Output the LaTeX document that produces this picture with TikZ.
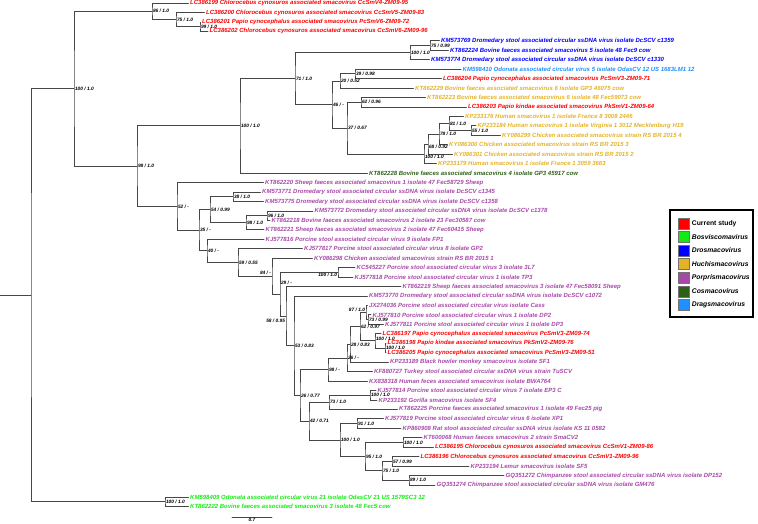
\documentclass[tikz,border=0pt]{standalone}
\usepackage{fontspec}
\setmainfont{Liberation Sans}
\usetikzlibrary{calc}
\usetikzlibrary{positioning}

\definecolor{cstudy}{RGB}{255,0,0}
\definecolor{bosv}{RGB}{20,235,20}
\definecolor{drosm}{RGB}{0,0,255}
\definecolor{huchi}{RGB}{228,178,40}
\definecolor{porp}{RGB}{168,72,168}
\definecolor{cosm}{RGB}{45,95,25}
\definecolor{dragsm}{RGB}{30,144,255}
\definecolor{treegray}{RGB}{70,70,70}

\newcommand{\leaffont}{\fontsize{6}{7}\selectfont\bfseries\itshape}
\newcommand{\suppfont}{\fontsize{4.8}{5.5}\selectfont\bfseries\itshape}
\newcommand{\legfont}{\fontsize{6.8}{8}\selectfont\bfseries}

%% clade: [label opts]{name}{x}{upper child}{lower child}{support}
\newcommand{\clade}[6][]{%
	\path let \p1=(#4), \p2=(#5) in (#3pt,{(\y1+\y2)/2}) coordinate (#2);
	\draw[branch] (#4) -| (#2) |- (#5);
	\node[supp,#1] (#2s) at (#2) {#6};}

\begin{document}
\begin{tikzpicture}[x=1pt,y=-1pt,line cap=round] %% tree
	\tikzstyle{branch}=[draw=treegray,line width=0.8pt];
	\tikzstyle{leaf}=[anchor=west,inner xsep=1.5pt,inner ysep=0pt,font=\leaffont];
	\tikzstyle{supp}=[anchor=west,inner sep=0.8pt,font=\suppfont];
	\tikzstyle{swatch}=[draw=black!55,minimum size=11pt,inner sep=0pt];
	\tikzstyle{legtext}=[anchor=west,inner sep=0pt,font=\legfont];
	\useasboundingbox (0,0) rectangle (758,523);
	%% leaves
	\foreach \tip/\col/\txt [count=\i] in {
		188.5/cstudy/LC386199 Chlorocebus cynosuros associated smacovirus CcSmV4-ZM09-95,
		204.5/cstudy/LC386200 Chlorocebus cynosuros associated smacovirus CcSmV5-ZM09-83,
		200.5/cstudy/LC386201 Papio cynocephalus associated smacovirus PcSmV6-ZM09-72,
		208/cstudy/LC386202 Chlorocebus cynosuros associated smacovirus CcSmV6-ZM09-96,
		439.5/drosm/KM573769 Dromedary stool associated circular ssDNA virus isolate DcSCV c1359,
		448.5/drosm/KT862224 Bovine faeces associated smacovirus 5 isolate 48 Fec9 cow,
		429.5/drosm/KM573774 Dromedary stool associated circular ssDNA virus isolate DcSCV c1330,
		461/dragsm/KM598410 Odonata associated circular virus 5 isolate OdasCV 12 US 1683LM1 12,
		441.5/cstudy/LC386204 Papio cynocephalus associated smacovirus PcSmV3-ZM09-71,
		413.5/huchi/KT862229 Bovine faeces associated smacovirus 6 isolate GP3 46075 cow,
		425.5/huchi/KT862223 Bovine faeces associated smacovirus 6 isolate 48 Fec59073 cow,
		466.5/cstudy/LC386203 Papio kindae associated smacovirus PkSmV1-ZM09-64,
		463.5/huchi/KP233176 Human smacovirus 1 isolate France 8 3008 2446,
		476/huchi/KP233184 Human smacovirus 1 isolate Virginia 1 3012 Mecklenburg H19,
		500.5/huchi/KY086299 Chicken associated smacovirus strain RS BR 2015 4,
		447.5/huchi/KY086300 Chicken associated smacovirus strain RS BR 2015 3,
		452.5/huchi/KY086301 Chicken associated smacovirus strain RS BR 2015 2,
		436.5/huchi/KP233179 Human smacovirus 1 isolate France 1 3059 3663,
		367.5/cosm/KT862228 Bovine faeces associated smacovirus 4 isolate GP3 45917 cow,
		263.5/porp/KT862220 Sheep faeces associated smacovirus 1 isolate 47 Fec58729 Sheep,
		260.5/porp/KM573771 Dromedary stool associated circular ssDNA virus isolate DcSCV c1345,
		263.5/porp/KM573775 Dromedary stool associated circular ssDNA virus isolate DcSCV c1358,
		313/porp/KM573772 Dromedary stool associated circular ssDNA virus isolate DcSCV c1378,
		270/porp/KT862218 Bovine faeces associated smacovirus 2 isolate 23 Fec30587 cow,
		264/porp/KT862221 Sheep faeces associated smacovirus 2 isolate 47 Fec60415 Sheep,
		264/porp/KJ577816 Porcine stool associated circular virus 9 isolate FP1,
		302.5/porp/KJ577817 Porcine stool associated circular virus 8 isolate GP2,
		312.5/porp/KY086298 Chicken associated smacovirus strain RS BR 2015 1,
		355/porp/KC545227 Porcine stool associated circular virus 3 isolate 3L7,
		353/porp/KJ577818 Porcine stool associated circular virus 1 isolate TP3,
		401/porp/KT862219 Sheep faeces associated smacovirus 3 isolate 47 Fec58091 Sheep,
		367.5/porp/KM573770 Dromedary stool associated circular ssDNA virus isolate DcSCV c1072,
		367.5/porp/JX274036 Porcine stool associated circular virus isolate Cass,
		371/porp/KJ577810 Porcine stool associated circular virus 1 isolate DP2,
		383.5/porp/KJ577811 Porcine stool associated circular virus 1 isolate DP3,
		381/cstudy/LC386197 Papio cynocephalus associated smacovirus PcSmV3-ZM09-74,
		386/cstudy/LC386198 Papio kindae associated smacovirus PkSmV2-ZM09-76,
		386/cstudy/LC386205 Papio cynocephalus associated smacovirus PcSmV3-ZM09-51,
		388.5/porp/KP233189 Black howler monkey smacovirus isolate SF1,
		372.5/porp/KF880727 Turkey stool associated circular ssDNA virus strain TuSCV,
		367.5/porp/KX838318 Human feces associated smacovirus isolate BWA764,
		376/porp/KJ577814 Porcine stool associated circular virus 7 isolate EP3 C,
		377/porp/KP233192 Gorilla smacovirus isolate SF4,
		397.5/porp/KT862225 Porcine faeces associated smacovirus 1 isolate 49 Fec25 pig,
		383.5/porp/KJ577819 Porcine stool associated circular virus 6 isolate XP1,
		401/porp/KP860908 Rat stool associated circular ssDNA virus isolate KS 11 0582,
		422/porp/KT600068 Human faeces smacovirus 2 strain SmaCV2,
		433.5/cstudy/LC386195 Chlorocebus cynosuros associated smacovirus CcSmV1-ZM09-86,
		419/cstudy/LC386196 Chlorocebus cynosuros associated smacovirus CcSmV1-ZM09-96,
		469/porp/KP233194 Lemur smacovirus isolate SF5,
		504/porp/GQ351272 Chimpanzee stool associated circular ssDNA virus isolate DP152,
		435/porp/GQ351274 Chimpanzee stool associated circular ssDNA virus isolate GM476}
		\node[leaf,text=\col] (l\i) at (\tip,{3+(\i-1)*9.45}) {\txt};
	\node[leaf,text=bosv] (l53) at (188.5,497) {KM598409 Odonata associated circular virus 21 isolate OdasCV 21 US 1579SC3 12};
	\node[leaf,text=bosv] (l54) at (188.5,506.5) {KT862222 Bovine faeces associated smacovirus 3 isolate 48 Fec5 cow};
	%% top red clade
	\clade{c99}{200}{l3.west}{l4.west}{99 / 1.0}
	\clade{c75}{176}{l2.west}{c99}{75 / 1.0}
	\clade{c86}{152}{l1.west}{c75}{86 / 1.0}
	%% drosmaco / huchismaco part
	\clade{c75b}{430}{l5.west}{l6.west}{75 / 0.99}
	\clade{c100b}{410}{c75b}{l7.west}{100 / 1.0}
	\clade{c39}{355}{l8.west}{l9.west}{39 / 0.98}
	\clade{c20}{340}{c39}{l10.west}{20 / 0.52}
	\clade{c62}{361}{l11.west}{l12.west}{62 / 0.96}
	\clade{c55}{471}{l14.west}{l15.west}{55 / 1.0}
	\clade{c81}{449}{l13.west}{c55}{81 / 1.0}
	\clade{c78}{439}{c81}{l16.west}{78 / 1.0}
	\clade[anchor=north west]{c68}{428}{c78}{l17.west}{68 / 0.92}
	\clade[anchor=north west]{c100h}{424}{c68}{l18.west}{100 / 1.0}
	\clade{c37}{347}{c62}{c100h}{37 / 0.67}
	\clade{c46}{332}{c20}{c37}{46 / -}
	\clade{c71}{295}{c100b}{c46}{71 / 1.0}
	\clade{c100c}{240}{c71}{l19.west}{100 / 1.0}
	%% porprismaco part
	\clade{c38}{233}{l21.west}{l22.west}{38 / 1.0}
	\clade{c96}{267}{l23.west}{l24.west}{96 / 1.0}
	\clade{c98a}{246}{c96}{l25.west}{98 / 1.0}
	\clade{c54}{210}{c38}{c98a}{54 / 0.99}
	\clade[anchor=north east]{c100p}{338}{l29.west}{l30.west}{100 / 1.0}
	\clade{c73a}{368}{l34.west}{l35.west}{73 / 0.99}
	\clade[anchor=south east]{c87}{366}{l33.west}{c73a}{87 / 1.0}
	\clade{c100r}{385}{l37.west}{l38.west}{100 / 1.0}
	\clade[inner sep=0pt,xshift=0.8pt,yshift=2.3pt]{c100q}{375}{l36.west}{c100r}{100 / 1.0}
	\clade{c62b}{360}{c87}{c100q}{62 / 0.97}
	\clade{c28}{350}{c62b}{l39.west}{28 / 0.83}
	\clade{c26a}{347}{c28}{l40.west}{26 / -}
	\clade{c98b}{328}{c26a}{l41.west}{98 / -}
	\clade{c100s}{370}{l42.west}{l43.west}{100 / 1.0}
	\clade{c73b}{329}{c100s}{l44.west}{73 / 1.0}
	\clade{c91}{357}{l45.west}{l46.west}{91 / 1.0}
	\clade{c100u}{403}{l47.west}{l48.west}{100 / 1.0}
	\clade{c57}{392}{l49.west}{l50.west}{57 / 0.99}
	\clade{c89}{409}{l51.west}{l52.west}{89 / 1.0}
	\clade{c75c}{382}{c57}{c89}{75 / 1.0}
	\clade{c95}{365}{c100u}{c75c}{95 / 1.0}
	\clade{c100t}{340}{c91}{c95}{100 / 1.0}
	\clade{c42}{309}{c73b}{c100t}{42 / 0.71}
	\clade{c26b}{300}{c98b}{c42}{26 / 0.77}
	\clade{c53}{294}{l32.west}{c26b}{53 / 0.83}
	\clade[anchor=north east,yshift=-1.5pt]{c58}{286}{l31.west}{c53}{58 / 0.95}
	\clade[yshift=11pt]{c29}{280}{c100p}{c58}{29 / -}
	\clade[anchor=east,yshift=3pt]{c84}{272}{l28.west}{c29}{84 / -}
	\clade{c59}{238}{l27.west}{c84}{59 / 0.55}
	\clade{c40}{207}{l26.west}{c59}{40 / -}
	\clade{c35}{199}{c54}{c40}{35 / -}
	\clade{c52}{177}{l20.west}{c35}{52 / -}
	%% backbone
	\clade{c98}{137}{c100c}{c52}{98 / 1.0}
	\clade{c100a}{74}{c86}{c98}{100 / 1.0}
	\clade{c100o}{165}{l53.west}{l54.west}{100 / 1.0}
	\path let \p1=(c100a), \p2=(c100o) in (31pt,{(\y1+\y2)/2}) coordinate (root);
	\path let \p1=(root) in (0pt,\y1) coordinate (base);
	\draw[branch] (c100a) -| (root) |- (c100o);
	\draw[branch] (root) -- (base);
	%% scale bar
	\draw[branch] (232,517) -- node[below=0.3pt,inner sep=0pt,font=\suppfont]{0.7} (272,517);
	%% legend
	\draw[line width=1.6pt] (670,210) rectangle (753,317);
	\foreach \col/\txt [count=\i] in {cstudy/Current study,bosv/\itshape Bosviscomavirus,
		drosm/\itshape Drosmacovirus,huchi/\itshape Huchismacovirus,porp/\itshape Porprismacovirus,
		cosm/\itshape Cosmacovirus,dragsm/\itshape Dragsmacovirus}
	{
		\node[swatch,fill=\col] (sw\i) at (683.5,{223.3+(\i-1)*13.6}) {};
		\node[legtext,right=2.5pt of sw\i] (lg\i) {\txt};
	}
\end{tikzpicture}
\end{document}
